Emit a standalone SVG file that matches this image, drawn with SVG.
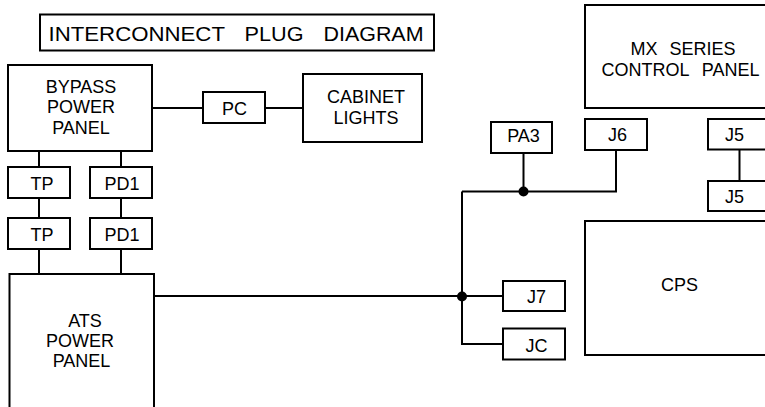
<svg xmlns="http://www.w3.org/2000/svg" width="765" height="407" viewBox="0 0 765 407">
<style>
  .box { fill: #ffffff; stroke: #000000; stroke-width: 2; }
  .wire { fill: none; stroke: #000000; stroke-width: 2; }
  .dot { fill: #000000; }
  text { font-family: "Liberation Sans", Arial, sans-serif; font-size: 18px; fill: #000000; text-anchor: middle; }
  .title { font-size: 21px; text-anchor: start; }
</style>
<rect width="765" height="407" fill="#ffffff"/>

<g id="title">
  <rect class="box" x="40" y="14.5" width="394" height="36"/>
  <text class="title" x="48.5" y="40.5" textLength="176.5" lengthAdjust="spacingAndGlyphs">INTERCONNECT</text>
  <text class="title" x="244.5" y="40.5" textLength="59" lengthAdjust="spacingAndGlyphs">PLUG</text>
  <text class="title" x="323.5" y="40.5" textLength="100" lengthAdjust="spacingAndGlyphs">DIAGRAM</text>
</g>

<g id="connectors">
  <polyline class="wire" points="152,108 203,108"/>
  <polyline class="wire" points="265,108 303,108"/>
  <polyline class="wire" points="39,151 39,167"/>
  <polyline class="wire" points="39,198 39,218"/>
  <polyline class="wire" points="39,249 39,274"/>
  <polyline class="wire" points="121,151 121,167"/>
  <polyline class="wire" points="121,198 121,218"/>
  <polyline class="wire" points="121,249 121,274"/>
  <polyline class="wire" points="154,296 503,296"/>
  <polyline class="wire" points="462,191.5 462,344 503,344"/>
  <polyline class="wire" points="462,191.5 616,191.5 616,150"/>
  <polyline class="wire" points="523.5,153 523.5,191.5"/>
  <polyline class="wire" points="739.5,149.5 739.5,181"/>
  <circle class="dot" cx="523.5" cy="191.5" r="5"/>
  <circle class="dot" cx="462" cy="296.5" r="5"/>
</g>

<g id="bypass">
  <rect class="box" x="8" y="65" width="144" height="86"/>
  <text x="81" y="92.5">BYPASS</text>
  <text x="81" y="113">POWER</text>
  <text x="81" y="133.5">PANEL</text>
</g>

<g id="pc">
  <rect class="box" x="203" y="92" width="62" height="31"/>
  <text x="234.5" y="114.5">PC</text>
</g>

<g id="cabinet">
  <rect class="box" x="303" y="74" width="119" height="68"/>
  <text x="366" y="103">CABINET</text>
  <text x="366" y="123.5">LIGHTS</text>
</g>

<g id="tp1">
  <rect class="box" x="8" y="167" width="62" height="31"/>
  <text x="42" y="189.5">TP</text>
</g>
<g id="pd1a">
  <rect class="box" x="90" y="167" width="62" height="31"/>
  <text x="122" y="189.5">PD1</text>
</g>
<g id="tp2">
  <rect class="box" x="8" y="218" width="62" height="31"/>
  <text x="42" y="241">TP</text>
</g>
<g id="pd1b">
  <rect class="box" x="90" y="218" width="62" height="31"/>
  <text x="122" y="241">PD1</text>
</g>

<g id="ats">
  <rect class="box" x="9.5" y="274" width="144.5" height="140"/>
  <text x="85" y="326.5">ATS</text>
  <text x="80" y="347">POWER</text>
  <text x="81.5" y="367">PANEL</text>
</g>

<g id="mx">
  <rect class="box" x="585" y="5" width="200" height="103"/>
  <text x="683" y="54.5" style="word-spacing:7px">MX SERIES</text>
  <text x="680.5" y="76" style="word-spacing:8px">CONTROL PANEL</text>
</g>

<g id="pa3">
  <rect class="box" x="491" y="122" width="61" height="31"/>
  <text x="523.5" y="142">PA3</text>
</g>

<g id="j6">
  <rect class="box" x="585" y="119" width="62" height="31"/>
  <text x="617.5" y="140.5">J6</text>
</g>

<g id="j5a">
  <rect class="box" x="708" y="119" width="80" height="30.5"/>
  <text x="734.5" y="140.5">J5</text>
</g>
<g id="j5b">
  <rect class="box" x="708" y="181" width="80" height="30"/>
  <text x="734.5" y="203">J5</text>
</g>

<g id="cps">
  <rect class="box" x="585" y="221" width="200" height="134"/>
  <text x="679.5" y="291">CPS</text>
</g>

<g id="j7">
  <rect class="box" x="503" y="281" width="62" height="30"/>
  <text x="536.5" y="302.5">J7</text>
</g>

<g id="jc">
  <rect class="box" x="503" y="328.5" width="62" height="31"/>
  <text x="536.5" y="351.5">JC</text>
</g>
</svg>
